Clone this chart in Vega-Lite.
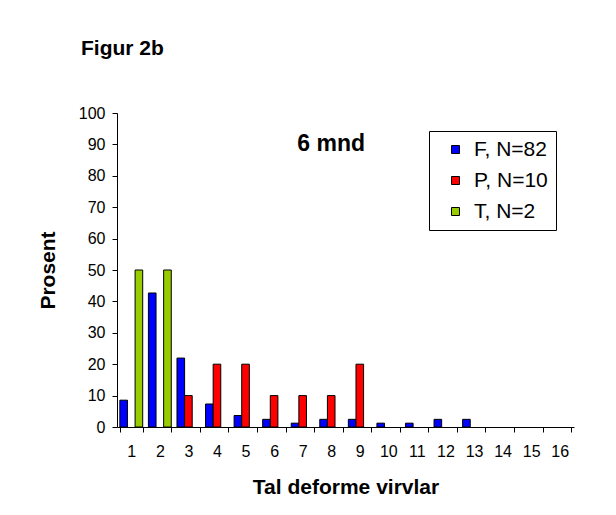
{
  "$schema": "https://vega.github.io/schema/vega-lite/v6.json",
  "width": 457,
  "height": 314,
  "autosize": {"type": "none"},
  "padding": {"left": 117, "top": 113, "right": 42, "bottom": 88},
  "background": "white",
  "config": {
    "font": "Liberation Sans",
    "view": {"stroke": null},
    "axis": {"domainColor": "black", "tickColor": "black", "labelColor": "black", "titleColor": "black", "grid": false, "labelFont": "Liberation Sans", "titleFont": "Liberation Sans"}
  },
  "title": {
    "text": "Figur 2b",
    "anchor": "start",
    "frame": "group",
    "dx": -36,
    "offset": 46,
    "fontSize": 21,
    "fontWeight": "bold",
    "color": "black",
    "font": "Liberation Sans"
  },
  "layer": [
    {
      "data": {
        "values": [
          {"serie": "F, N=82", "tal": 1, "prosent": 8.54},
          {"serie": "F, N=82", "tal": 2, "prosent": 42.68},
          {"serie": "F, N=82", "tal": 3, "prosent": 21.95},
          {"serie": "F, N=82", "tal": 4, "prosent": 7.32},
          {"serie": "F, N=82", "tal": 5, "prosent": 3.66},
          {"serie": "F, N=82", "tal": 6, "prosent": 2.44},
          {"serie": "F, N=82", "tal": 7, "prosent": 1.22},
          {"serie": "F, N=82", "tal": 8, "prosent": 2.44},
          {"serie": "F, N=82", "tal": 9, "prosent": 2.44},
          {"serie": "F, N=82", "tal": 10, "prosent": 1.22},
          {"serie": "F, N=82", "tal": 11, "prosent": 1.22},
          {"serie": "F, N=82", "tal": 12, "prosent": 2.44},
          {"serie": "F, N=82", "tal": 13, "prosent": 2.44},
          {"serie": "P, N=10", "tal": 3, "prosent": 10},
          {"serie": "P, N=10", "tal": 4, "prosent": 20},
          {"serie": "P, N=10", "tal": 5, "prosent": 20},
          {"serie": "P, N=10", "tal": 6, "prosent": 10},
          {"serie": "P, N=10", "tal": 7, "prosent": 10},
          {"serie": "P, N=10", "tal": 8, "prosent": 10},
          {"serie": "P, N=10", "tal": 9, "prosent": 20},
          {"serie": "T, N=2", "tal": 1, "prosent": 50},
          {"serie": "T, N=2", "tal": 2, "prosent": 50}
        ]
      },
      "mark": {"type": "bar", "stroke": "black", "strokeWidth": 1},
      "encoding": {
        "x": {
          "field": "tal",
          "type": "ordinal",
          "scale": {"domain": [1,2,3,4,5,6,7,8,9,10,11,12,13,14,15,16], "paddingInner": 0.2, "paddingOuter": 0.1},
          "axis": {
            "title": "Tal deforme virvlar",
            "labelAngle": 0,
            "tickBand": "extent",
            "tickSize": 5,
            "labelFontSize": 16,
            "labelPadding": 11,
            "titleFontSize": 21,
            "titleFontWeight": "bold",
            "titlePadding": 17
          }
        },
        "xOffset": {
          "field": "serie",
          "type": "nominal",
          "scale": {"domain": ["F, N=82", "P, N=10", "T, N=2"], "paddingInner": 0, "paddingOuter": 0}
        },
        "y": {
          "field": "prosent",
          "type": "quantitative",
          "scale": {"domain": [0, 100], "nice": false},
          "axis": {
            "title": "Prosent",
            "values": [0,10,20,30,40,50,60,70,80,90,100],
            "labelOverlap": false,
            "tickSize": 5,
            "labelFontSize": 16,
            "labelPadding": 7,
            "titleFontSize": 21,
            "titleFontWeight": "bold",
            "titlePadding": 20
          }
        },
        "color": {
          "field": "serie",
          "type": "nominal",
          "scale": {"domain": ["F, N=82", "P, N=10", "T, N=2"], "range": ["#0000FF", "#FF0000", "#99CC00"]},
          "legend": {
            "title": null,
            "orient": "none",
            "legendX": 312,
            "legendY": 18,
            "strokeColor": "black",
            "fillColor": "white",
            "padding": 8,
            "symbolOffset": 8,
            "symbolType": "square",
            "symbolSize": 64,
            "symbolStrokeColor": "black",
            "symbolStrokeWidth": 1,
            "symbolOpacity": 1,
            "labelFontSize": 21,
            "labelFont": "Liberation Sans",
            "labelColor": "black",
            "labelOffset": 8,
            "rowPadding": 9,
            "labelLimit": 300
          }
        }
      }
    },
    {
      "data": {"values": [{"label": "6 mnd"}]},
      "mark": {"type": "text", "fontSize": 23, "fontWeight": "bold", "align": "center", "baseline": "middle", "color": "black", "font": "Liberation Sans"},
      "encoding": {
        "text": {"field": "label", "type": "nominal"},
        "x": {
          "datum": 8,
          "type": "ordinal",
          "axis": {
            "title": "Tal deforme virvlar",
            "labelAngle": 0,
            "tickBand": "extent",
            "tickSize": 5,
            "labelFontSize": 16,
            "labelPadding": 11,
            "titleFontSize": 21,
            "titleFontWeight": "bold",
            "titlePadding": 17
          }
        },
        "y": {
          "datum": 90,
          "type": "quantitative",
          "axis": {
            "title": "Prosent",
            "values": [0,10,20,30,40,50,60,70,80,90,100],
            "labelOverlap": false,
            "tickSize": 5,
            "labelFontSize": 16,
            "labelPadding": 7,
            "titleFontSize": 21,
            "titleFontWeight": "bold",
            "titlePadding": 20
          }
        }
      }
    }
  ]
}
